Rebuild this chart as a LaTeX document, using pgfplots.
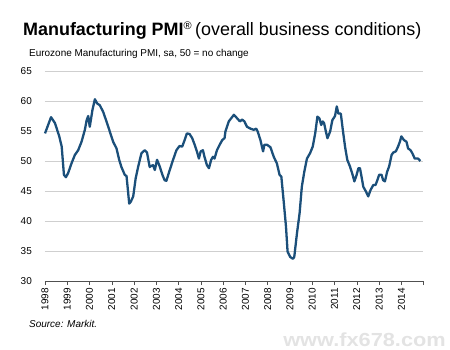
\documentclass[border=0pt]{standalone}
\usepackage{fontspec}
\setmainfont{Liberation Sans}
\usepackage{pgfplots}
\pgfplotsset{compat=1.18}
\definecolor{pmiblue}{HTML}{1B4F7A}
\definecolor{gridgray}{HTML}{CFCFCF}
\definecolor{axisgray}{HTML}{505050}
\begin{document}
\begin{tikzpicture}
\useasboundingbox (0bp,0bp) rectangle (450bp,350bp);
\begin{axis}[
  at={(45bp,69bp)}, anchor=south west,
  scale only axis, width=378bp, height=210bp,
  xmin=1998, xmax=2014.97, ymin=30, ymax=65,
  ytick={30,35,...,65},
  xtick={1998,1999,...,2014},
  extra x ticks={2014.97}, extra x tick labels={},
  xticklabel style={rotate=90, anchor=east, font=\fontsize{10}{10}\selectfont, inner sep=1pt},
  yticklabel style={font=\fontsize{10}{10}\selectfont, inner sep=1pt},
  x tick label style={/pgf/number format/1000 sep={}},
  /pgf/number format/assume math mode=true,
  axis x line*=bottom, axis y line*=left,
  y axis line style={draw=none},
  x axis line style={draw=axisgray, line width=0.8pt, -},
  xtick style={draw=axisgray, line width=0.6pt},
  ytick style={draw=none},
  tick align=outside, major tick length=4bp,
  ymajorgrids, grid style={draw=gridgray, line width=0.8pt},
  clip=false,
  xticklabel shift=2bp, yticklabel shift=8bp,
]
\addplot[pmiblue, line width=2.3pt, line join=round] coordinates {
(1998.00,54.6) (1998.27,57.3) (1998.45,56.3) (1998.64,54.1) (1998.75,52.4)
(1998.85,47.7) (1998.94,47.3) (1999.04,48.0) (1999.19,49.6) (1999.34,51.0)
(1999.49,51.8) (1999.64,53.2) (1999.79,55.2) (1999.87,56.8) (1999.94,57.5)
(2000.01,55.7) (2000.13,58.5) (2000.24,60.3) (2000.34,59.6) (2000.46,59.3)
(2000.61,58.2) (2000.76,56.6) (2000.91,54.9) (2001.06,53.2) (2001.21,52.1)
(2001.33,50.2) (2001.43,49.0) (2001.58,47.7) (2001.66,47.5) (2001.70,46.0)
(2001.78,42.9) (2001.85,43.2) (2001.96,44.1) (2002.07,47.1) (2002.18,49.0)
(2002.33,51.3) (2002.48,51.8) (2002.58,51.4) (2002.70,49.0) (2002.78,49.2)
(2002.85,49.3) (2002.93,48.5) (2003.03,50.2) (2003.15,49.1) (2003.27,47.7)
(2003.37,46.8) (2003.45,46.7) (2003.60,48.5) (2003.75,50.2) (2003.90,51.8)
(2004.04,52.5) (2004.16,52.4) (2004.27,53.5) (2004.37,54.6) (2004.49,54.5)
(2004.61,53.8) (2004.72,52.7) (2004.82,51.6) (2004.91,50.4) (2004.99,51.6)
(2005.09,51.8) (2005.16,50.7) (2005.27,49.3) (2005.36,48.8) (2005.46,50.2)
(2005.54,50.7) (2005.61,50.4) (2005.72,51.8) (2005.84,52.7) (2005.96,53.5)
(2006.06,53.8) (2006.10,54.9) (2006.25,56.6) (2006.48,57.7) (2006.63,57.1)
(2006.75,56.6) (2006.85,56.9) (2006.95,56.6) (2007.07,55.7) (2007.22,55.4)
(2007.37,55.2) (2007.48,55.4) (2007.55,54.9) (2007.67,53.5) (2007.79,51.6)
(2007.85,52.7) (2007.97,52.7) (2008.12,52.3) (2008.27,50.7) (2008.41,49.6)
(2008.53,47.7) (2008.61,47.4) (2008.71,43.5) (2008.82,39.0) (2008.89,34.9)
(2009.01,34.0) (2009.13,33.7) (2009.19,34.0) (2009.31,37.9) (2009.43,41.3)
(2009.53,45.7) (2009.64,48.2) (2009.76,50.4) (2009.90,51.3) (2010.02,52.4)
(2010.13,54.6) (2010.23,57.4) (2010.32,57.1) (2010.40,56.0) (2010.47,56.6)
(2010.53,56.3) (2010.61,54.9) (2010.68,53.8) (2010.80,54.9) (2010.90,56.8)
(2011.02,57.5) (2011.10,59.1) (2011.17,57.9) (2011.28,57.9) (2011.37,55.2)
(2011.47,52.4) (2011.57,50.2) (2011.69,49.1) (2011.81,47.7) (2011.89,46.6)
(2011.99,47.7) (2012.07,48.8) (2012.14,48.8) (2012.21,47.4) (2012.29,45.7)
(2012.41,44.9) (2012.51,44.1) (2012.62,45.2) (2012.74,46.0) (2012.84,46.0)
(2012.92,46.8) (2013.00,47.7) (2013.11,47.7) (2013.18,46.8) (2013.26,46.6)
(2013.36,48.2) (2013.45,49.1) (2013.56,51.0) (2013.63,51.4) (2013.75,51.6)
(2013.85,52.4) (2013.93,53.2) (2014.00,54.1) (2014.11,53.5) (2014.23,53.2)
(2014.30,52.1) (2014.41,51.8) (2014.49,51.3) (2014.60,50.4) (2014.67,50.4)
(2014.75,50.4) (2014.85,50.0)
};
\end{axis}
\node[anchor=base west, inner sep=0pt] at (23bp,314bp) {\fontsize{18}{18}\selectfont\textbf{Manufacturing PMI}\textsuperscript{\fontsize{11}{11}\selectfont\textregistered}\,(overall business conditions)};
\node[anchor=base west, inner sep=0pt] at (29bp,293bp) {\fontsize{10}{10}\selectfont Eurozone Manufacturing PMI, sa, 50 = no change};
\node[anchor=base west, inner sep=0pt] at (29bp,22.5bp) {\fontsize{10}{10}\selectfont\itshape Source: Markit.};
\node[anchor=base east, inner sep=0pt, text=gray!22, xscale=1.15] at (446bp,4bp) {\fontsize{19}{19}\selectfont\bfseries www.fx678.com};
\end{tikzpicture}
\end{document}
